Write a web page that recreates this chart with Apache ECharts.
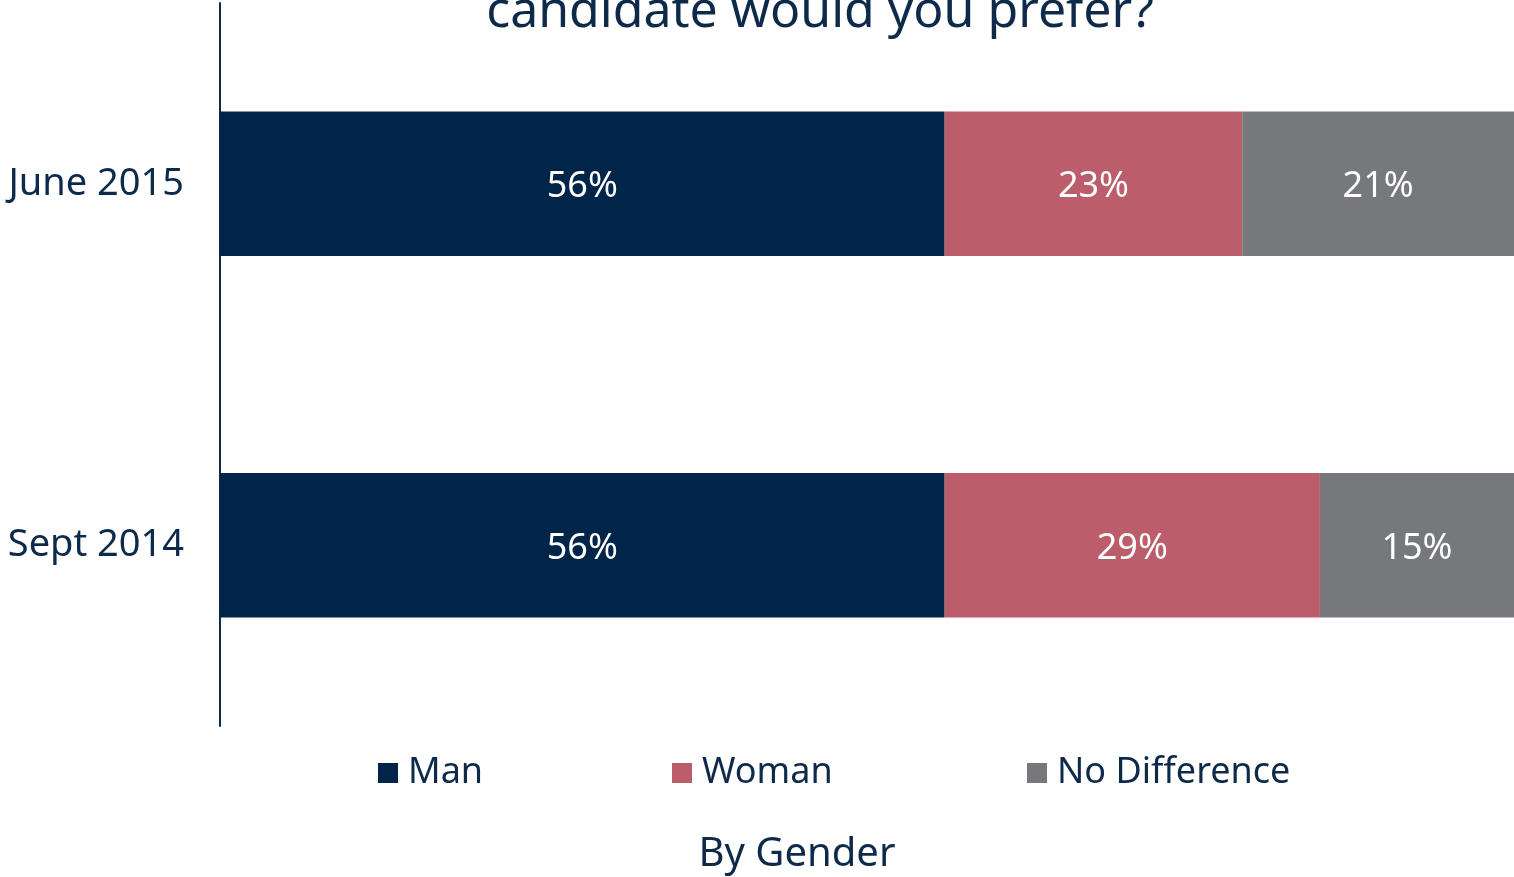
<!DOCTYPE html>
<html><head><meta charset="utf-8">
<script src="https://cdn.jsdelivr.net/npm/echarts@6/dist/echarts.min.js"></script>
<style>html,body{margin:0;padding:0;background:#fff}#c{width:1514px;height:877px}</style>
</head><body><div id="c"></div>
<script>
const categories = ['June 2015', 'Sept 2014'];
const seriesNames = ['Man', 'Woman', 'No Difference'];
const man = [56, 56];
const woman = [23, 29];
const noDiff = [21, 15];
const colors = ['#012548', '#bb5d6a', '#77787c'];
const navy = '#0e2a4a';
const FONT = 'Noto Sans';

const chart = echarts.init(document.getElementById('c'));
const values = [man, woman, noDiff];
const series = seriesNames.map((n, i) => ({
  name: n, type: 'bar', stack: 'total', data: values[i],
  barCategoryGap: '60%',
  itemStyle: { color: colors[i] },
  label: { show: true, position: 'inside', offset: [0, 3], color: '#fff', fontSize: 36, fontFamily: FONT, formatter: p => p.value + '%' },
  emphasis: { disabled: true }
}));
const legendText = { fontSize: 36, color: navy, fontFamily: FONT, padding: [0, 0, 0, 5] };
chart.setOption({
  animation: false,
  textStyle: { fontFamily: FONT },
  graphic: [
    { type: 'text', x: 820, y: 38, style: { text: 'candidate would you prefer?', fill: navy, font: '50px "Noto Sans"', textAlign: 'center', textVerticalAlign: 'bottom' } },
    { type: 'text', x: 797, y: 855, style: { text: 'By Gender', fill: navy, font: '40px "Noto Sans"', textAlign: 'center', textVerticalAlign: 'middle' } }
  ],
  legend: [
    { data: ['Man'], left: 378, top: 755, padding: 0, itemWidth: 20, itemHeight: 20, textStyle: legendText, icon: 'rect' },
    { data: ['Woman'], left: 672, top: 755, padding: 0, itemWidth: 20, itemHeight: 20, textStyle: legendText, icon: 'rect' },
    { data: ['No Difference'], left: 1027, top: 755, padding: 0, itemWidth: 20, itemHeight: 20, textStyle: legendText, icon: 'rect' }
  ],
  grid: { left: 220, right: 0, top: 3, bottom: 151, containLabel: false },
  xAxis: { type: 'value', min: 0, max: 100, show: false },
  yAxis: {
    type: 'category', data: categories, inverse: true,
    axisLine: { show: true, lineStyle: { color: '#0e2a4a', width: 2 } },
    axisTick: { show: false },
    axisLabel: { fontSize: 38, color: navy, fontFamily: FONT, margin: 36 }
  },
  series: series
});
</script></body></html>
